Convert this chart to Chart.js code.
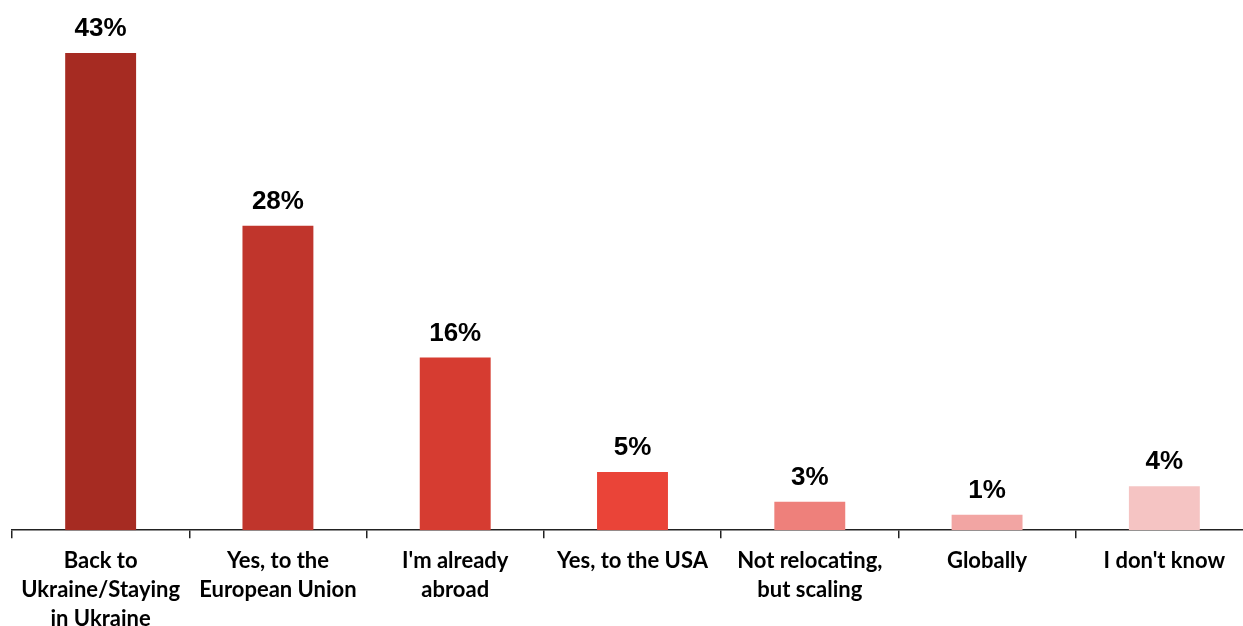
<!DOCTYPE html>
<html>
<head>
<meta charset="utf-8">
<script src="https://cdn.jsdelivr.net/npm/chart.js@4.4.0/dist/chart.umd.min.js"></script>
<style>
  html, body { margin: 0; padding: 0; background: #fff; overflow: hidden; }
  #wrap { width: 1253px; height: 642px; }
</style>
</head>
<body>
<div id="wrap"><canvas id="relocChart"></canvas></div>
<script>
const categories = [
  ['Back to', 'Ukraine/Staying', 'in Ukraine'],
  ['Yes, to the', 'European Union'],
  ["I'm already", 'abroad'],
  ['Yes, to the USA'],
  ['Not relocating,', 'but scaling'],
  ['Globally'],
  ["I don't know"],
];
const shares = [43.4, 27.7, 15.7, 5.3, 2.6, 1.4, 4.0];
const shareLabels = ['43%', '28%', '16%', '5%', '3%', '1%', '4%'];
const barColors = ['#A62B22', '#C0352C', '#D63C31', '#EA4438', '#EE807B', '#F2A5A3', '#F5C4C3'];

const ctx = document.getElementById('relocChart').getContext('2d');

// Draw the percentage above each bar
const valueLabels = {
  id: 'valueLabels',
  afterDatasetsDraw(chart) {
    const c = chart.ctx;
    const meta = chart.getDatasetMeta(0);
    c.save();
    c.font = 'bold 26px "Liberation Sans", Arial, sans-serif';
    c.fillStyle = '#000';
    c.textAlign = 'center';
    c.textBaseline = 'bottom';
    meta.data.forEach((bar, i) => {
      c.fillText(shareLabels[i], bar.x, bar.y - 11);
    });
    c.restore();
  },
};

new Chart(ctx, {
  type: 'bar',
  data: {
    labels: categories,
    datasets: [
      {
        data: shares,
        backgroundColor: barColors,
        barPercentage: 0.4,
        categoryPercentage: 1,
      },
    ],
  },
  options: {
    responsive: true,
    maintainAspectRatio: false,
    animation: false,
    layout: { padding: { top: 20, left: 12, right: 0, bottom: 0 } },
    plugins: {
      legend: { display: false },
      tooltip: { enabled: false },
    },
    scales: {
      x: {
        border: { color: '#222', width: 1.5 },
        grid: {
          offset: true,
          drawOnChartArea: false,
          tickLength: 8,
          color: '#222',
          lineWidth: 1.5,
        },
        ticks: {
          color: '#000',
          maxRotation: 0,
          autoSkip: false,
          padding: 8,
          font: { family: 'Lato, "Open Sans", sans-serif', size: 22, weight: 'bold', lineHeight: 1.33 },
        },
      },
      y: {
        display: false,
        min: 0,
        max: 46.4,
      },
    },
  },
  plugins: [valueLabels],
});
</script>
</body>
</html>
